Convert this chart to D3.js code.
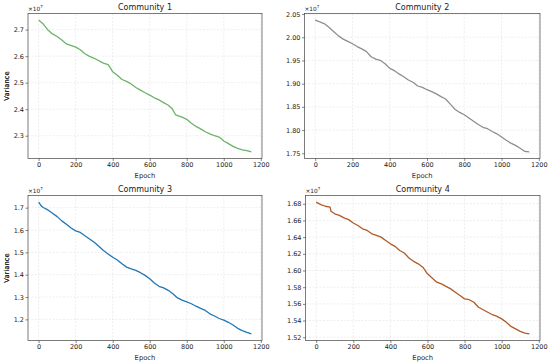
<!DOCTYPE html>
<html lang="en">
<head>
    <meta charset="UTF-8">
    <title></title>
    <style>
        body { margin: 0; background: #fff; }
        text { font-family: "DejaVu Sans", sans-serif; fill: #222; }
    </style>
</head>
<body>
<script src="https://cdn.jsdelivr.net/npm/d3@7"></script>
<script>
    var epochs1 = [0, 25, 50, 75, 100, 125, 150, 200, 225, 250, 275, 300, 350, 375, 390, 400, 425, 450, 475, 500,
                   525, 550, 575, 600, 625, 650, 675, 700, 720, 740, 775, 800, 825, 850, 875, 900, 925, 950, 975,
                   990, 1000, 1025, 1050, 1075, 1100, 1125, 1149];
    var community1 = [2.736, 2.721, 2.699, 2.684, 2.674, 2.661, 2.646, 2.634, 2.624, 2.609, 2.599, 2.592, 2.574, 2.568,
                      2.553, 2.541, 2.528, 2.512, 2.505, 2.495, 2.482, 2.472, 2.462, 2.453, 2.443, 2.435, 2.425, 2.415,
                      2.403, 2.379, 2.370, 2.362, 2.347, 2.335, 2.326, 2.315, 2.307, 2.300, 2.295, 2.287, 2.280, 2.270,
                      2.260, 2.252, 2.247, 2.244, 2.239];

    var epochs2 = [0, 25, 50, 75, 100, 125, 150, 175, 200, 225, 250, 275, 300, 325, 350, 375, 400, 425, 450, 475, 500,
                   525, 550, 575, 600, 625, 650, 675, 700, 725, 750, 775, 800, 825, 850, 875, 900, 925, 950, 975,
                   1000, 1025, 1050, 1075, 1100, 1125, 1149];
    var community2 = [2.037, 2.033, 2.029, 2.021, 2.012, 2.003, 1.996, 1.991, 1.986, 1.980, 1.975, 1.969, 1.958, 1.953,
                      1.950, 1.943, 1.933, 1.928, 1.921, 1.915, 1.908, 1.903, 1.895, 1.892, 1.887, 1.883, 1.878, 1.872,
                      1.867, 1.856, 1.845, 1.838, 1.833, 1.826, 1.819, 1.812, 1.806, 1.803, 1.797, 1.792, 1.785, 1.778,
                      1.772, 1.767, 1.761, 1.754, 1.753];

    var epochs3 = [0, 15, 25, 50, 75, 100, 125, 150, 175, 200, 225, 250, 275, 300, 325, 350, 375, 400, 425, 450, 475,
                   500, 525, 550, 575, 600, 625, 650, 675, 700, 725, 750, 775, 800, 825, 850, 875, 900, 925, 950, 975,
                   1000, 1025, 1050, 1075, 1100, 1125, 1149];
    var community3 = [1.725, 1.707, 1.701, 1.690, 1.675, 1.660, 1.641, 1.626, 1.609, 1.596, 1.589, 1.574, 1.560, 1.545,
                      1.527, 1.508, 1.493, 1.478, 1.466, 1.449, 1.434, 1.426, 1.419, 1.409, 1.397, 1.382, 1.363, 1.348,
                      1.341, 1.330, 1.315, 1.296, 1.286, 1.278, 1.270, 1.259, 1.249, 1.240, 1.225, 1.215, 1.204, 1.197,
                      1.187, 1.175, 1.160, 1.150, 1.142, 1.135];

    var epochs4 = [0, 25, 50, 75, 80, 100, 125, 150, 175, 200, 225, 250, 275, 300, 325, 350, 375, 400, 425, 450, 475,
                   500, 525, 550, 575, 600, 625, 650, 675, 700, 725, 750, 775, 800, 825, 850, 875, 900, 925, 950, 975,
                   1000, 1025, 1050, 1075, 1100, 1125, 1149];
    var community4 = [1.682, 1.679, 1.677, 1.676, 1.671, 1.668, 1.666, 1.663, 1.661, 1.657, 1.654, 1.650, 1.648, 1.644,
                      1.642, 1.640, 1.636, 1.632, 1.629, 1.624, 1.621, 1.615, 1.611, 1.608, 1.604, 1.596, 1.591, 1.586,
                      1.584, 1.581, 1.578, 1.574, 1.570, 1.566, 1.565, 1.562, 1.556, 1.553, 1.550, 1.547, 1.545, 1.542,
                      1.538, 1.533, 1.530, 1.527, 1.525, 1.524];

    var titles = ['Community 1', 'Community 2', 'Community 3', 'Community 4'];
    var xTicks = [0, 200, 400, 600, 800, 1000, 1200];
    var yTicks1 = [2.3, 2.4, 2.5, 2.6, 2.7];
    var yTicks2 = [1.75, 1.80, 1.85, 1.90, 1.95, 2.00, 2.05];
    var yTicks3 = [1.2, 1.3, 1.4, 1.5, 1.6, 1.7];
    var yTicks4 = [1.52, 1.54, 1.56, 1.58, 1.60, 1.62, 1.64, 1.66, 1.68];

    var width = 550, height = 364;

    var svg = d3.select('body').append('svg')
                .attr('width', width)
                .attr('height', height);

    var panels = [
        { title: titles[0], x: epochs1, y: community1, ticks: yTicks1, fmt: '.1f', color: '#6cb26a',
          box: { left: 28, top: 13.5, right: 262, bottom: 158.5 } },
        { title: titles[1], x: epochs2, y: community2, ticks: yTicks2, fmt: '.2f', color: '#8e8e8e',
          box: { left: 304.5, top: 13.5, right: 540, bottom: 158.5 } },
        { title: titles[2], x: epochs3, y: community3, ticks: yTicks3, fmt: '.1f', color: '#1f77b4',
          box: { left: 28, top: 195.5, right: 262, bottom: 340.5 } },
        { title: titles[3], x: epochs4, y: community4, ticks: yTicks4, fmt: '.2f', color: '#b05a28',
          box: { left: 305.5, top: 195.5, right: 540, bottom: 340.5 } }
    ];

    function pad(ext) {
        var m = (ext[1] - ext[0]) * 0.05;
        return [ext[0] - m, ext[1] + m];
    }

    panels.forEach(function(p) {
        var b = p.box,
            w = b.right - b.left,
            h = b.bottom - b.top;

        var xScale = d3.scaleLinear().domain(pad(d3.extent(p.x))).range([0, w]);
        var yScale = d3.scaleLinear().domain(pad(d3.extent(p.y))).range([h, 0]);

        var g = svg.append('g').attr('transform', 'translate(' + b.left + ',' + b.top + ')');

        // grid
        g.append('g').selectAll('line').data(xTicks.filter(function(t) { return xScale(t) <= w; }))
         .enter().append('line')
         .attr('x1', function(d) { return xScale(d); })
         .attr('x2', function(d) { return xScale(d); })
         .attr('y1', 0).attr('y2', h)
         .attr('stroke', '#e2e2e2').attr('stroke-width', 0.6).attr('stroke-dasharray', '2,1.5');
        g.append('g').selectAll('line').data(p.ticks)
         .enter().append('line')
         .attr('y1', function(d) { return yScale(d); })
         .attr('y2', function(d) { return yScale(d); })
         .attr('x1', 0).attr('x2', w)
         .attr('stroke', '#e2e2e2').attr('stroke-width', 0.6).attr('stroke-dasharray', '2,1.5');

        // axes
        var xAxis = d3.axisBottom(xScale).tickValues(xTicks.filter(function(t) { return xScale(t) <= w + 2; }))
                      .tickSize(2.5).tickPadding(1.5).tickFormat(d3.format('d'));
        var yAxis = d3.axisLeft(yScale).tickValues(p.ticks).tickSize(2.5).tickPadding(1.5)
                      .tickFormat(d3.format(p.fmt));

        var gx = g.append('g').attr('transform', 'translate(0,' + h + ')').call(xAxis);
        var gy = g.append('g').call(yAxis);
        [gx, gy].forEach(function(a) {
            a.select('.domain').remove();
            a.selectAll('line').attr('stroke', '#333').attr('stroke-width', 0.6);
            a.selectAll('text').attr('font-size', 6.5).attr('fill', '#222')
             .style('font-family', '"DejaVu Sans", sans-serif');
        });

        // line
        var line = d3.line()
                     .x(function(d, i) { return xScale(p.x[i]); })
                     .y(function(d) { return yScale(d); });
        g.append('path')
         .datum(p.y)
         .attr('d', line)
         .attr('fill', 'none')
         .attr('stroke', p.color)
         .attr('stroke-width', 1.3)
         .attr('stroke-linejoin', 'round');

        // frame
        g.append('rect')
         .attr('width', w).attr('height', h)
         .attr('fill', 'none').attr('stroke', '#444').attr('stroke-width', 0.7);

        // texts
        g.append('text').attr('x', w / 2).attr('y', -4)
         .attr('text-anchor', 'middle').attr('font-size', 8).text(p.title);
        g.append('text').attr('x', w / 2).attr('y', h + 19.5)
         .attr('text-anchor', 'middle').attr('font-size', 6.8).text('Epoch');
        g.append('text').attr('transform', 'translate(' + (-b.left + 8.5) + ',' + (h / 2) + ') rotate(-90)')
         .attr('text-anchor', 'middle').attr('font-size', 6.8).text('Variance');

        var off = g.append('text').attr('x', 0).attr('y', -3).attr('font-size', 5.8);
        off.append('tspan').text('\u00d710');
        off.append('tspan').attr('dy', -2.5).attr('font-size', 4).text('7');
    });
</script>
</body>
</html>
